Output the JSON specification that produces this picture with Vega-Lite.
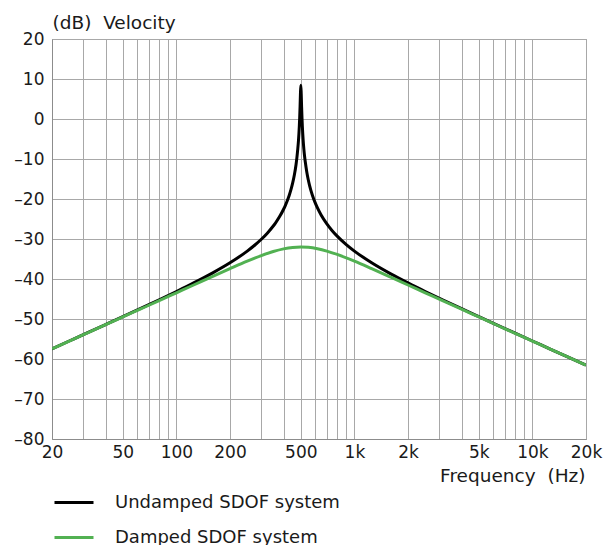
{
  "$schema": "https://vega.github.io/schema/vega-lite/v6.json",
  "width": 534,
  "height": 400,
  "autosize": {"type": "none"},
  "padding": {"left": 52, "top": 39, "right": 18, "bottom": 106},
  "background": "white",
  "config": {
    "font": "DejaVu Sans",
    "view": {"stroke": "#8c8c8c", "strokeWidth": 1},
    "axis": {
      "labelFont": "DejaVu Sans",
      "titleFont": "DejaVu Sans",
      "labelColor": "#1a1a1a",
      "titleColor": "#1a1a1a",
      "labelFontSize": 17,
      "titleFontSize": 18.5,
      "titleFontWeight": "normal",
      "gridColor": "#a8a8a8",
      "gridOpacity": 1,
      "gridWidth": 1,
      "domainColor": "#8c8c8c",
      "ticks": false
    }
  },
  "data": {
    "values": [
      {"f": 20, "db": -57.45, "series": "Undamped SDOF system"},
      {"f": 25, "db": -55.5, "series": "Undamped SDOF system"},
      {"f": 31.5, "db": -53.48, "series": "Undamped SDOF system"},
      {"f": 40, "db": -51.38, "series": "Undamped SDOF system"},
      {"f": 50, "db": -49.41, "series": "Undamped SDOF system"},
      {"f": 63, "db": -47.35, "series": "Undamped SDOF system"},
      {"f": 80, "db": -45.19, "series": "Undamped SDOF system"},
      {"f": 100, "db": -43.12, "series": "Undamped SDOF system"},
      {"f": 125, "db": -40.98, "series": "Undamped SDOF system"},
      {"f": 160, "db": -38.46, "series": "Undamped SDOF system"},
      {"f": 200, "db": -35.95, "series": "Undamped SDOF system"},
      {"f": 250, "db": -33.02, "series": "Undamped SDOF system"},
      {"f": 275, "db": -31.56, "series": "Undamped SDOF system"},
      {"f": 300, "db": -30.06, "series": "Undamped SDOF system"},
      {"f": 325, "db": -28.47, "series": "Undamped SDOF system"},
      {"f": 350, "db": -26.75, "series": "Undamped SDOF system"},
      {"f": 360, "db": -26.01, "series": "Undamped SDOF system"},
      {"f": 380, "db": -24.4, "series": "Undamped SDOF system"},
      {"f": 400, "db": -22.56, "series": "Undamped SDOF system"},
      {"f": 410, "db": -21.53, "series": "Undamped SDOF system"},
      {"f": 420, "db": -20.39, "series": "Undamped SDOF system"},
      {"f": 430, "db": -19.12, "series": "Undamped SDOF system"},
      {"f": 440, "db": -17.68, "series": "Undamped SDOF system"},
      {"f": 450, "db": -15.99, "series": "Undamped SDOF system"},
      {"f": 460, "db": -13.95, "series": "Undamped SDOF system"},
      {"f": 470, "db": -11.36, "series": "Undamped SDOF system"},
      {"f": 475, "db": -9.73, "series": "Undamped SDOF system"},
      {"f": 480, "db": -7.74, "series": "Undamped SDOF system"},
      {"f": 485, "db": -5.38, "series": "Undamped SDOF system"},
      {"f": 490, "db": -2.04, "series": "Undamped SDOF system"},
      {"f": 492.5, "db": 0.19, "series": "Undamped SDOF system"},
      {"f": 495, "db": 2.98, "series": "Undamped SDOF system"},
      {"f": 497.5, "db": 6.34, "series": "Undamped SDOF system"},
      {"f": 500, "db": 8.45, "series": "Undamped SDOF system"},
      {"f": 502.5, "db": 6.35, "series": "Undamped SDOF system"},
      {"f": 505, "db": 3.05, "series": "Undamped SDOF system"},
      {"f": 507.5, "db": 0.3, "series": "Undamped SDOF system"},
      {"f": 510, "db": -1.88, "series": "Undamped SDOF system"},
      {"f": 515, "db": -5.13, "series": "Undamped SDOF system"},
      {"f": 520, "db": -7.51, "series": "Undamped SDOF system"},
      {"f": 525, "db": -9.37, "series": "Undamped SDOF system"},
      {"f": 530, "db": -10.83, "series": "Undamped SDOF system"},
      {"f": 540, "db": -13.25, "series": "Undamped SDOF system"},
      {"f": 550, "db": -15.12, "series": "Undamped SDOF system"},
      {"f": 560, "db": -16.63, "series": "Undamped SDOF system"},
      {"f": 580, "db": -18.98, "series": "Undamped SDOF system"},
      {"f": 600, "db": -20.79, "series": "Undamped SDOF system"},
      {"f": 620, "db": -22.24, "series": "Undamped SDOF system"},
      {"f": 650, "db": -24.0, "series": "Undamped SDOF system"},
      {"f": 700, "db": -26.22, "series": "Undamped SDOF system"},
      {"f": 750, "db": -27.92, "series": "Undamped SDOF system"},
      {"f": 800, "db": -29.28, "series": "Undamped SDOF system"},
      {"f": 900, "db": -31.4, "series": "Undamped SDOF system"},
      {"f": 1000, "db": -33.02, "series": "Undamped SDOF system"},
      {"f": 1250, "db": -35.94, "series": "Undamped SDOF system"},
      {"f": 1600, "db": -38.71, "series": "Undamped SDOF system"},
      {"f": 2000, "db": -40.98, "series": "Undamped SDOF system"},
      {"f": 2500, "db": -43.13, "series": "Undamped SDOF system"},
      {"f": 3150, "db": -45.27, "series": "Undamped SDOF system"},
      {"f": 4000, "db": -47.43, "series": "Undamped SDOF system"},
      {"f": 5000, "db": -49.41, "series": "Undamped SDOF system"},
      {"f": 6300, "db": -51.45, "series": "Undamped SDOF system"},
      {"f": 8000, "db": -53.55, "series": "Undamped SDOF system"},
      {"f": 10000, "db": -55.5, "series": "Undamped SDOF system"},
      {"f": 12500, "db": -57.44, "series": "Undamped SDOF system"},
      {"f": 16000, "db": -59.6, "series": "Undamped SDOF system"},
      {"f": 20000, "db": -61.54, "series": "Undamped SDOF system"},
      {"f": 20, "db": -57.46, "series": "Damped SDOF system"},
      {"f": 25, "db": -55.52, "series": "Damped SDOF system"},
      {"f": 31.5, "db": -53.51, "series": "Damped SDOF system"},
      {"f": 40, "db": -51.43, "series": "Damped SDOF system"},
      {"f": 50, "db": -49.49, "series": "Damped SDOF system"},
      {"f": 63, "db": -47.48, "series": "Damped SDOF system"},
      {"f": 80, "db": -45.4, "series": "Damped SDOF system"},
      {"f": 100, "db": -43.45, "series": "Damped SDOF system"},
      {"f": 125, "db": -41.5, "series": "Damped SDOF system"},
      {"f": 160, "db": -39.34, "series": "Damped SDOF system"},
      {"f": 200, "db": -37.42, "series": "Damped SDOF system"},
      {"f": 250, "db": -35.55, "series": "Damped SDOF system"},
      {"f": 300, "db": -34.15, "series": "Damped SDOF system"},
      {"f": 350, "db": -33.13, "series": "Damped SDOF system"},
      {"f": 400, "db": -32.47, "series": "Damped SDOF system"},
      {"f": 450, "db": -32.11, "series": "Damped SDOF system"},
      {"f": 500, "db": -32.0, "series": "Damped SDOF system"},
      {"f": 550, "db": -32.09, "series": "Damped SDOF system"},
      {"f": 620, "db": -32.44, "series": "Damped SDOF system"},
      {"f": 700, "db": -33.02, "series": "Damped SDOF system"},
      {"f": 800, "db": -33.86, "series": "Damped SDOF system"},
      {"f": 1000, "db": -35.55, "series": "Damped SDOF system"},
      {"f": 1250, "db": -37.42, "series": "Damped SDOF system"},
      {"f": 1600, "db": -39.55, "series": "Damped SDOF system"},
      {"f": 2000, "db": -41.5, "series": "Damped SDOF system"},
      {"f": 2500, "db": -43.45, "series": "Damped SDOF system"},
      {"f": 3150, "db": -45.47, "series": "Damped SDOF system"},
      {"f": 4000, "db": -47.55, "series": "Damped SDOF system"},
      {"f": 5000, "db": -49.49, "series": "Damped SDOF system"},
      {"f": 6300, "db": -51.5, "series": "Damped SDOF system"},
      {"f": 8000, "db": -53.58, "series": "Damped SDOF system"},
      {"f": 10000, "db": -55.52, "series": "Damped SDOF system"},
      {"f": 12500, "db": -57.46, "series": "Damped SDOF system"},
      {"f": 16000, "db": -59.6, "series": "Damped SDOF system"},
      {"f": 20000, "db": -61.54, "series": "Damped SDOF system"}
    ]
  },
  "encoding": {
    "x": {
      "field": "f",
      "type": "quantitative",
      "scale": {"type": "log", "domain": [20, 20000], "nice": false},
      "axis": {
        "values": [20, 30, 40, 50, 60, 70, 80, 90, 100, 200, 300, 400, 500, 600, 700, 800, 900, 1000, 2000, 3000, 4000, 5000, 6000, 7000, 8000, 9000, 10000, 20000],
        "labelExpr": "(datum.value == 20 || datum.value == 50 || datum.value == 100 || datum.value == 200 || datum.value == 500) ? '' + datum.value : ((datum.value == 1000 || datum.value == 2000 || datum.value == 5000 || datum.value == 10000 || datum.value == 20000) ? (datum.value / 1000) + 'k' : '')",
        "labelOverlap": false,
        "labelFlush": false,
        "labelBound": false,
        "labelPadding": 5,
        "title": "Frequency\u00a0\u00a0(Hz)",
        "titleAnchor": "end",
        "titleAlign": "right",
        "titleX": 533,
        "titleY": 42,
        "titleBaseline": "alphabetic"
      }
    },
    "y": {
      "field": "db",
      "type": "quantitative",
      "scale": {"domain": [-80, 20], "nice": false},
      "axis": {
        "values": [-80, -70, -60, -50, -40, -30, -20, -10, 0, 10, 20],
        "labelExpr": "datum.value < 0 ? '\u2013' + abs(datum.value) : '' + datum.value",
        "labelPadding": 8,
        "title": "(dB)\u00a0\u00a0Velocity",
        "titleAngle": 0,
        "titleAlign": "left",
        "titleAnchor": "start",
        "titleX": 0,
        "titleY": -11,
        "titleBaseline": "alphabetic"
      }
    },
    "color": {
      "field": "series",
      "type": "nominal",
      "scale": {
        "domain": ["Undamped SDOF system", "Damped SDOF system"],
        "range": ["#000000", "#52b152"]
      },
      "legend": {
        "title": null,
        "orient": "none",
        "legendX": 1,
        "legendY": 446,
        "symbolType": "stroke",
        "symbolSize": 1521,
        "symbolStrokeWidth": 3,
        "labelFont": "DejaVu Sans",
        "labelFontSize": 18,
        "labelLimit": 400,
        "labelColor": "#1a1a1a",
        "labelOffset": 20,
        "clipHeight": 35,
        "rowPadding": 0,
        "padding": 0
      }
    }
  },
  "layer": [
    {
      "transform": [{"filter": "datum.series === 'Undamped SDOF system'"}],
      "mark": {"type": "line", "strokeWidth": 3, "clip": true, "interpolate": "monotone"}
    },
    {
      "transform": [{"filter": "datum.series === 'Damped SDOF system'"}],
      "mark": {"type": "line", "strokeWidth": 3, "clip": true, "interpolate": "monotone"}
    }
  ]
}
